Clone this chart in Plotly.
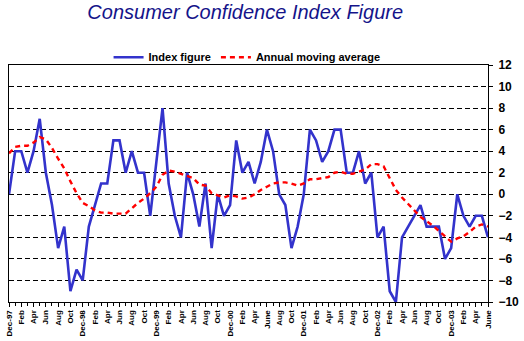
import plotly.graph_objects as go

tick_labels = ["Dec-97","Feb","Apr","Jun","Aug","Oct",
               "Dec-98","Feb","Apr","Jun","Aug","Oct",
               "Dec-99","Feb","Apr","Jun","Aug","Oct",
               "Dec-00","Feb","Apr","June","Aug","Oct",
               "Dec-01","Feb","Apr","Jun","Aug","Oct",
               "Dec-02","Feb","Apr","Jun","Aug","Oct",
               "Dec-03","Feb","Apr","June"]

index_figure = [0, 4, 4, 2, 4, 7, 2, -1, -5, -3, -9, -7, -8,
                -3, -1, 1, 1, 5, 5, 2, 4, 2, 2, -2, 3,
                8, 1, -2, -4, 2, 0, -3, 1, -5, 0, -2, -1,
                5, 2, 3, 1, 3, 6, 4, 0, -1, -5, -3, 0,
                6, 5, 3, 4, 6, 6, 2, 2, 4, 1, 2, -4,
                -3, -9, -10, -4, -3, -2, -1, -3, -3, -3, -6, -5,
                0, -2, -3, -2, -2, -4]

moving_avg = [3.8, 4.4, 4.5, 4.5, 4.8, 5.3, 5.1, 4.3, 3.3, 2.4, 1.2, 0.1, -0.8,
              -1.1, -1.5, -1.7, -1.7, -1.8, -1.8, -1.8, -1.3, -0.8, -0.4, 0.1, 0.7,
              1.8, 2.2, 2.1, 1.9, 1.7, 1.5, 0.9, 0.8, 0.1, -0.1, -0.3, -0.1,
              -0.2, -0.4, -0.3, 0.0, 0.4, 0.7, 1.0, 1.1, 1.1, 1.0, 0.8, 1.0,
              1.4, 1.4, 1.5, 1.6, 2.0, 2.1, 1.9, 1.9, 2.1, 2.3, 2.8, 2.8,
              2.6, 1.5, 0.4, -0.3, -0.9, -1.5, -2.1, -2.5, -2.9, -3.4, -3.9, -4.4,
              -4.1, -3.9, -3.5, -3.0, -2.8, -3.0]

x = list(range(len(index_figure)))
tickvals = list(range(0, len(index_figure), 2))

FONT = "Arial, Liberation Sans, sans-serif"

fig = go.Figure()
fig.add_trace(go.Scatter(x=x, y=index_figure, mode="lines", name="Index figure",
                         line=dict(color="#3333cc", width=2.6)))
fig.add_trace(go.Scatter(x=x, y=moving_avg, mode="lines", name="Annual moving average",
                         line=dict(color="#ff0000", width=2.4, dash="5px,4px")))

fig.update_layout(
    width=524, height=341,
    margin=dict(l=5, r=26, t=65, b=27),
    paper_bgcolor="white", plot_bgcolor="white",
    title=dict(text="Consumer Confidence Index Figure",
               font=dict(family=FONT, size=20, color="#14148a", style="italic"),
               x=0.468, xanchor="center", xref="container",
               y=1 - 12/341, yanchor="middle", yref="container"),
    legend=dict(orientation="h", x=0.497, xanchor="center", y=1.033, yanchor="middle",
                font=dict(family=FONT, size=11, color="black", weight="bold"),
                bgcolor="rgba(0,0,0,0)", itemwidth=30, tracegroupgap=0),
    showlegend=True,
)
fig.update_xaxes(range=[0, len(index_figure) - 1], tickmode="array",
                 tickvals=tickvals, ticktext=tick_labels, tickangle=-90,
                 tickfont=dict(family=FONT, size=8, color="black", weight="bold"),
                 ticks="outside", ticklen=4, tickcolor="black",
                 minor=dict(ticks="outside", dtick=1, tick0=0, ticklen=3, tickcolor="black"),
                 showgrid=False, zeroline=False,
                 showline=True, linecolor="black", linewidth=1, mirror=True)
fig.update_yaxes(range=[-10, 12], side="right", tickmode="linear", tick0=-10, dtick=2,
                 tickfont=dict(family=FONT, size=12, color="black", weight="bold"),
                 ticks="outside", ticklen=4, tickcolor="black", ticklabelstandoff=3,
                 showgrid=True, gridcolor="black", gridwidth=1, griddash="5px,3px",
                 zeroline=False,
                 showline=True, linecolor="black", linewidth=1, mirror=True)

fig.write_html("out.html")
